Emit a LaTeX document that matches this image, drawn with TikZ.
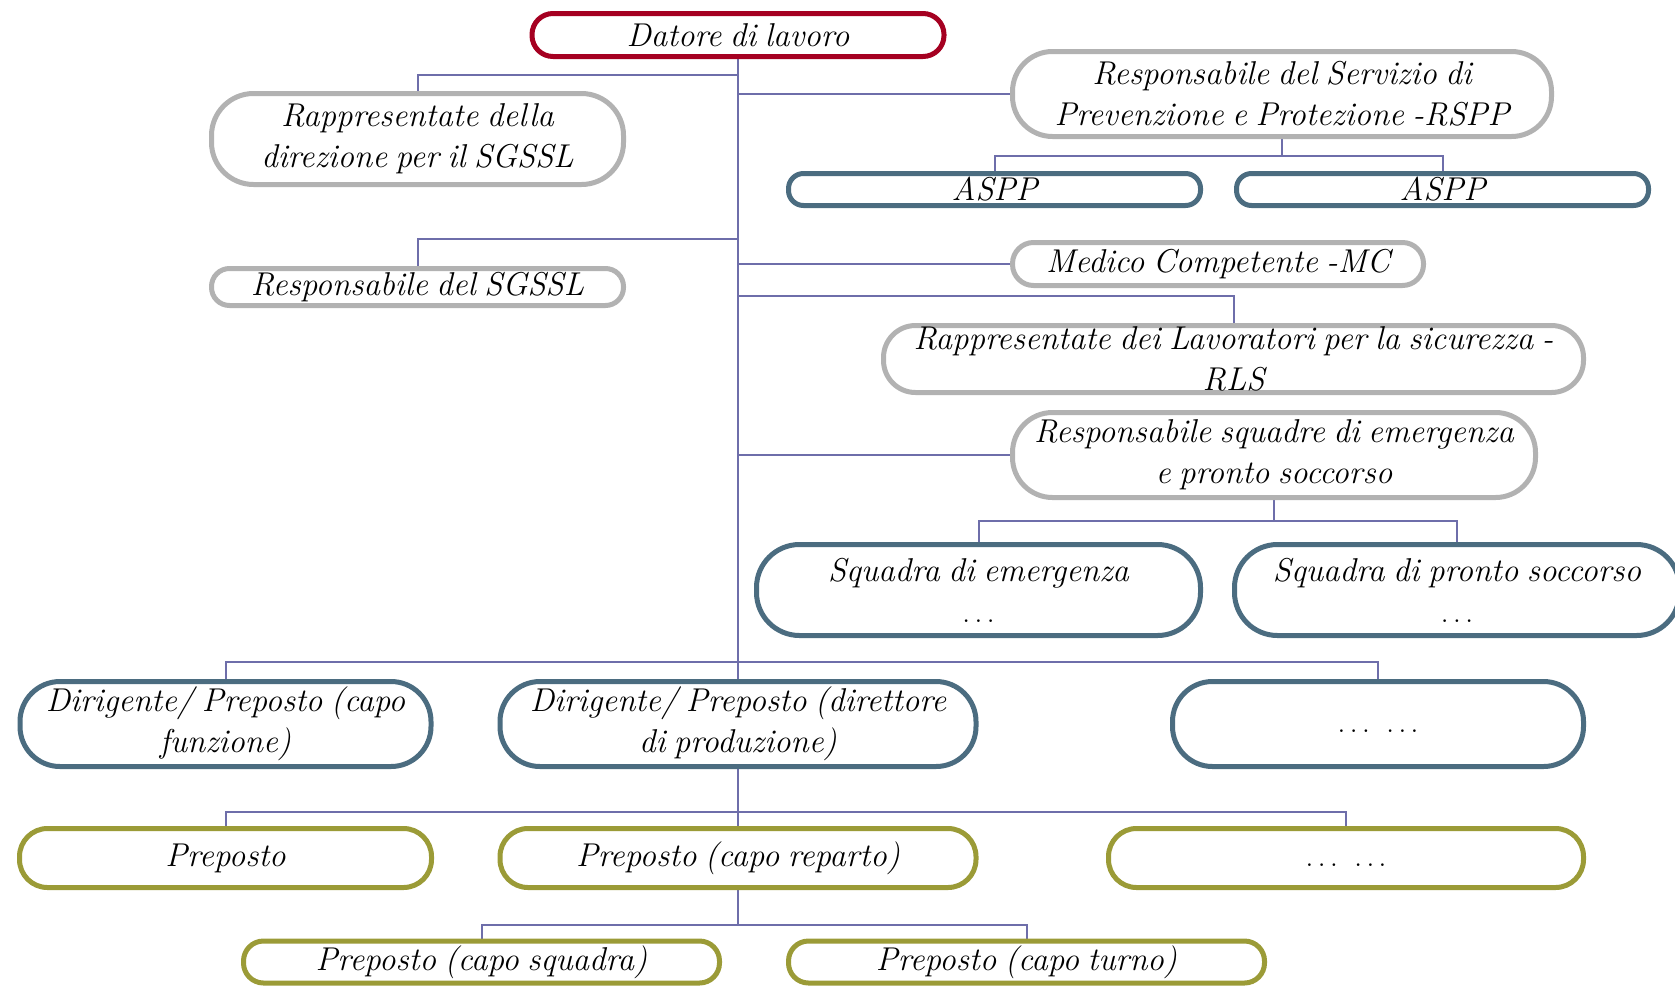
\documentclass[tikz,border=0pt]{standalone}
\usepackage{fontspec}
\usetikzlibrary{backgrounds}
\definecolor{cred}{RGB}{165,0,33}
\definecolor{cgray}{RGB}{178,178,178}
\definecolor{cblue}{RGB}{75,108,128}
\definecolor{colive}{RGB}{155,155,55}
\definecolor{cline}{RGB}{110,110,170}
\newcommand{\boxfont}{\fontsize{33}{41}\selectfont\itshape\spaceskip=8.5pt plus 3pt minus 2pt\relax}
\newcommand{\myell}{\textup{.\kern4pt.\kern4pt.}}
\tikzset{
  box/.style={draw, line width=5pt, fill=white, align=center, inner sep=0pt,
    font=\boxfont},
  redbox/.style={box, draw=cred},
  graybox/.style={box, draw=cgray},
  bluebox/.style={box, draw=cblue},
  olivebox/.style={box, draw=colive},
  conn/.style={draw=cline, line width=2pt},
}
\begin{document}
\begin{tikzpicture}[x=1pt, y=-1pt]
\useasboundingbox (0,0) rectangle (1675,986);
% nodes: minimum size = outer extent - line width
\node[redbox, minimum width=412pt, minimum height=43pt, rounded corners=21pt] (dat) at (738,35) {Datore di lavoro};
\node[graybox, minimum width=412pt, minimum height=91pt, rounded corners=42pt] (rap) at (417.5,139) {Rappresentate della\\direzione per il SGSSL};
\node[graybox, minimum width=412pt, minimum height=37pt, rounded corners=18pt] (rsg) at (417.5,287) {Responsabile del SGSSL};
\node[graybox, minimum width=539pt, minimum height=85pt, rounded corners=40pt] (rspp) at (1282,94) {Responsabile del Servizio di\\Prevenzione e Protezione -RSPP};
\node[bluebox, minimum width=412pt, minimum height=32pt, rounded corners=15pt] (asp1) at (994.5,189.5) {ASPP};
\node[bluebox, minimum width=412pt, minimum height=32pt, rounded corners=15pt] (asp2) at (1442.5,189.5) {ASPP};
\node[graybox, minimum width=411pt, minimum height=43pt, rounded corners=21pt] (mc) at (1218,264) {Medico Competente -MC};
\node[graybox, minimum width=700pt, minimum height=67pt, rounded corners=32pt] (rls) at (1233.5,359) {Rappresentate dei Lavoratori per la sicurezza -\\RLS};
\node[graybox, minimum width=523pt, minimum height=85pt, rounded corners=40pt] (rse) at (1274,455) {Responsabile squadre di emergenza\\e pronto soccorso};
\node[bluebox, minimum width=444pt, minimum height=91pt, rounded corners=43pt] (sqe) at (978.5,590) {Squadra di emergenza\\\myell};
\node[bluebox, minimum width=445pt, minimum height=91pt, rounded corners=43pt] (sqp) at (1457,590) {Squadra di pronto soccorso\\\myell};
\node[bluebox, minimum width=411pt, minimum height=85pt, rounded corners=40pt] (d1) at (225.5,724) {Dirigente/ Preposto (capo\\funzione)};
\node[bluebox, minimum width=476pt, minimum height=85pt, rounded corners=40pt] (d2) at (738,724) {Dirigente/ Preposto (direttore\\di produzione)};
\node[bluebox, minimum width=411pt, minimum height=85pt, rounded corners=40pt] (d3) at (1378,724) {\strut\myell\hspace{16pt}\myell};
\node[olivebox, minimum width=412pt, minimum height=59pt, rounded corners=28pt] (p1) at (225.5,858) {Preposto};
\node[olivebox, minimum width=476pt, minimum height=59pt, rounded corners=28pt] (p2) at (738,858) {Preposto (capo reparto)};
\node[olivebox, minimum width=475pt, minimum height=59pt, rounded corners=28pt] (p3) at (1346,858) {\strut\myell\hspace{16pt}\myell};
\node[olivebox, minimum width=476pt, minimum height=42pt, rounded corners=20pt] (p4) at (481.5,962) {Preposto (capo squadra)};
\node[olivebox, minimum width=476pt, minimum height=42pt, rounded corners=20pt] (p5) at (1026.5,962) {Preposto (capo turno)};
% bus points
\coordinate (bRap) at (738,75);
\coordinate (bRsg) at (738,239);
\coordinate (bRls) at (738,296);
\coordinate (bAsp) at (1282,156);
\coordinate (bSq) at (1274,521);
\coordinate (bDir) at (738,662);
\coordinate (bPre) at (738,812);
\coordinate (bCap) at (738,925);
\begin{scope}[on background layer]
\draw[conn] (dat.south) -- (d2.north);
\draw[conn] (rap.north) |- (bRap);
\draw[conn] (rsg.north) |- (bRsg);
\draw[conn] (rls.north) |- (bRls);
\draw[conn] (rspp.west) -- (rspp.west -| dat.south);
\draw[conn] (mc.west) -- (mc.west -| dat.south);
\draw[conn] (rse.west) -- (rse.west -| dat.south);
\draw[conn] (rspp.south) -- (bAsp);
\draw[conn] (asp1.north) |- (bAsp) -| (asp2.north);
\draw[conn] (rse.south) -- (bSq);
\draw[conn] (sqe.north) |- (bSq) -| (sqp.north);
\draw[conn] (d1.north) |- (bDir) -| (d3.north);
\draw[conn] (d2.south) -- (p2.north);
\draw[conn] (p1.north) |- (bPre) -| (p3.north);
\draw[conn] (p2.south) -- (bCap);
\draw[conn] (p4.north) |- (bCap) -| (p5.north);
\end{scope}
\end{tikzpicture}
\end{document}
